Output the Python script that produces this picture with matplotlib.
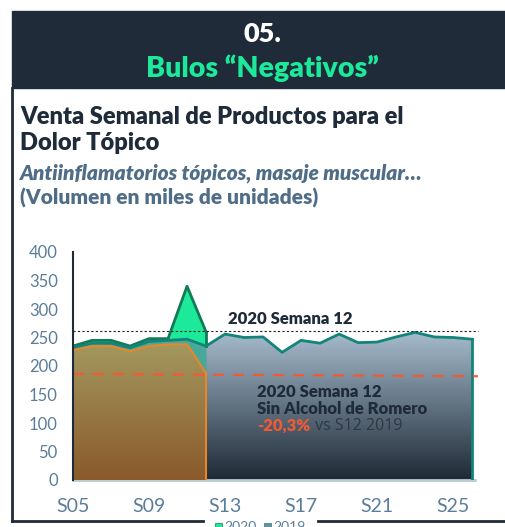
import numpy as np
import matplotlib
matplotlib.use("Agg")
import matplotlib.pyplot as plt
from matplotlib.colors import LinearSegmentedColormap
from matplotlib.lines import Line2D
from matplotlib.patches import Rectangle

plt.rcParams['font.family'] = ['Lato', 'DejaVu Sans']

# data (miles de unidades)
weeks = ["S%02d" % w for w in range(5, 27)]
v2019 = [232, 240, 240, 232, 243, 245, 247, 235, 256, 250, 251, 224, 245, 240,
         256, 241, 242, 251, 259, 251, 250, 247]
v2020 = [235, 245, 245, 235, 248, 248, 340, 260]
v2020_sin = [228, 235, 235, 226, 235, 238, 238, 187]
ref_s12 = 262
ref_sin = (186, 182)
yticks = [0, 50, 100, 150, 200, 250, 300, 350, 400]
xtick_labels = ["S05", "S09", "S13", "S17", "S21", "S25"]

dark = "#1f2b38"
green = "#1de99b"
steel = "#4f6d87"

W, H = 506, 527
fig = plt.figure(figsize=(W / 100, H / 100), dpi=100)

def fx(px):
    return px / W

def fy(py):
    return 1 - py / H

# header
fig.patches.append(Rectangle((fx(12), fy(88)), fx(494), 77 / H, transform=fig.transFigure,
                             color=dark, zorder=0))
fig.text(fx(262), fy(34), "05.", color="white", fontsize=19.5, fontweight="heavy",
         ha="center", va="center")
fig.text(fx(262), fy(68), "Bulos \u201cNegativos\u201d", color=green, fontsize=20.5,
         fontweight="heavy", ha="center", va="center")

# frame
fig.lines.append(Line2D([fx(12), fx(12)], [fy(88), fy(521)], transform=fig.transFigure,
                        color=dark, lw=2))
fig.lines.append(Line2D([fx(12), fx(203)], [fy(521), fy(521)], transform=fig.transFigure,
                        color=dark, lw=2))
fig.lines.append(Line2D([fx(318), fx(506)], [fy(521), fy(521)], transform=fig.transFigure,
                        color=dark, lw=2))

# titles
fig.text(fx(20), fy(117), "Venta Semanal de Productos para el", color=dark, fontsize=17,
         fontweight="heavy", va="center")
fig.text(fx(20), fy(143), "Dolor Tópico", color=dark, fontsize=17, fontweight="heavy",
         va="center")
fig.text(fx(20), fy(173), "Antiinflamatorios tópicos, masaje muscular\u2026", color=steel,
         fontsize=15, fontweight="heavy", style="italic", va="center")
fig.text(fx(20), fy(198), "(Volumen en miles de unidades)", color=steel, fontsize=15,
         fontweight="heavy", va="center")

# chart
ax = fig.add_axes([fx(73), fy(480), fx(402), 228 / H])
x = np.arange(len(weeks))
n20 = len(v2020)
x20 = x[:n20]
xmax = len(weeks) - 1 + 0.15
ax.set_xlim(0, xmax)
ax.set_ylim(0, 400)

def grad_fill(xs, ys, top, bottom, ytop, z):
    poly = ax.fill_between(xs, 0, ys, color="none", zorder=z)
    cmap = LinearSegmentedColormap.from_list("g", [bottom, top])
    img = ax.imshow(np.linspace(0, 1, 256).reshape(-1, 1), cmap=cmap, aspect="auto",
                    origin="lower", extent=[0, xmax, 0, ytop], zorder=z)
    img.set_clip_path(poly.get_paths()[0], transform=ax.transData)

# 2020 total
ax.fill_between(x20, 0, v2020, color=green, zorder=1, lw=0)
# 2019
grad_fill(x, v2019, "#a6bccd", "#1e2935", 260, 2)
ax.fill_between(x20, 0, v2019[:n20], color="#4aa89b", zorder=2.5, lw=0)
# 2020 sin alcohol de romero
grad_fill(x20, v2020_sin, "#a3985e", "#8a5a2b", 240, 3)

ax.plot(x20, v2020, color="#127a57", lw=2, zorder=4)
ax.plot([x20[-1], x20[-1]], [v2020[-1], v2019[n20 - 1]], color="#127a57", lw=2, zorder=4)
ax.plot(x, v2019, color="#138479", lw=2, zorder=5)
ax.plot([x[-1], x[-1]], [0, v2019[-1]], color="#138479", lw=2, zorder=5)
ax.plot(x20, v2020_sin, color="#e8862a", lw=1.5, zorder=6)
ax.plot([x20[-1], x20[-1]], [0, v2020_sin[-1]], color="#e8862a", lw=1.5, zorder=6)

# reference lines
ax.plot([0, xmax + 0.15], [ref_s12, ref_s12], color="#222222", lw=0.8, ls=(0, (2, 2)),
        zorder=7, clip_on=False)
ax.plot([0, xmax + 0.15], list(ref_sin), color="#f25a35", lw=1.6, ls=(0, (5, 4)),
        zorder=7, clip_on=False)

ax.text(8.15, 283, "2020 Semana 12", color=dark, fontsize=12, fontweight="heavy",
        va="center")
ax.text(9.7, 155, "2020 Semana 12", color=dark, fontsize=12, fontweight="heavy",
        va="center", zorder=8)
ax.text(9.7, 125, "Sin Alcohol de Romero", color=dark, fontsize=12, fontweight="heavy",
        va="center", zorder=8)
t = ax.text(9.7, 95, "-20,3%", color="#f25a35", fontsize=12, fontweight="heavy",
            va="center", zorder=8)
ax.annotate(" vs S12 2019", xycoords=t, xy=(1, 0.5), va="center", color="#2e3842",
            fontsize=11.5, fontfamily="Open Sans", zorder=8)

ax.set_yticks(yticks)
ax.set_xticks(x[::4])
ax.set_xticklabels(xtick_labels)
ax.tick_params(axis="y", length=0, pad=11, labelsize=12, labelcolor="#5a7d9a")
ax.tick_params(axis="x", length=0, pad=13, labelsize=14, labelcolor="#5a7d9a")
for s in ["top", "right"]:
    ax.spines[s].set_visible(False)
ax.spines["left"].set_color(dark)
ax.spines["left"].set_linewidth(1.5)
ax.spines["left"].set_zorder(9)
ax.spines["bottom"].set_color("#b9ccd4")
ax.spines["bottom"].set_linewidth(2)
ax.spines["bottom"].set_bounds(0, xmax)

# legend (cut at bottom)
fig.patches.append(Rectangle((fx(215), fy(530)), 7 / W, 7 / H, transform=fig.transFigure,
                             facecolor=green, edgecolor="#127a57", lw=0.5))
fig.text(fx(224), fy(521), "2020", color="#5a7d9a", fontsize=10, va="top")
fig.patches.append(Rectangle((fx(264), fy(530)), 7 / W, 7 / H, transform=fig.transFigure,
                             facecolor="#6d8ea3", edgecolor="#138479", lw=0.5))
fig.text(fx(273), fy(521), "2019", color="#5a7d9a", fontsize=10, va="top")

fig.savefig("out.png", dpi=100)
